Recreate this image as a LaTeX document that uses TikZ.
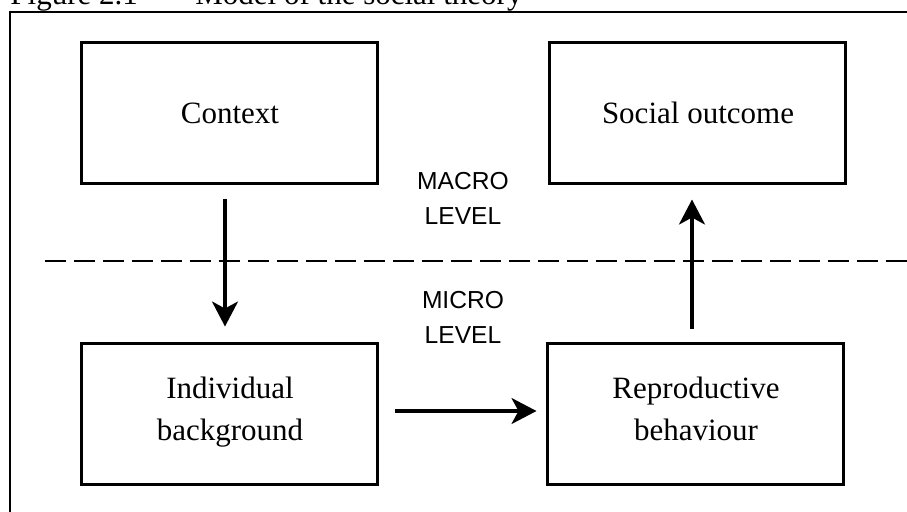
\documentclass[tikz,border=0pt]{standalone}
\usepackage{fontspec}
\setmainfont{Liberation Serif}
\newfontfamily\levelfont{Liberation Sans}
\usetikzlibrary{arrows.meta}
\tikzstyle{box} = [rectangle, minimum width=148pt, minimum height=70.5pt, text centered, align=center, draw=black, line width=1.5pt, font=\fontsize{15.5}{21}\selectfont, execute at begin node={\rule{0pt}{15.5pt}}, execute at end node={\rule[-5pt]{0pt}{5pt}}]
\tikzstyle{level} = [align=center, font=\levelfont\fontsize{12.3}{17.5}\selectfont]
\tikzstyle{caption} = [anchor=base west, inner sep=0pt, font=\fontsize{15.5}{18}\selectfont]
\tikzstyle{divider} = [line width=1.3pt, dash pattern=on 10.5pt off 4pt]
\tikzstyle{arrow} = [line width=1.6pt, -{Stealth[length=12.5pt, width=13pt, inset=3.5pt]}]

\begin{document}
\begin{tikzpicture}[node distance=233.5pt]
\path [use as bounding box, fill=white] (-115pt,56.25pt) rectangle (338.5pt,-199.25pt);

\node (fig) [caption] at (-110pt,54pt) {Figure 2.1};
\node (title) [caption] at (-17.5pt,54pt) {Model of the social theory};
\draw [line width=1pt] (-110pt,-210pt) -- (-110pt,50.25pt) -- (345pt,50.25pt);

\node (context) [box] {Context};
\node (social) [box, right of=context, xshift=0.5pt] {Social outcome};
\node (indiv) [box, below of=context, yshift=83pt] {Individual\\background};
\node (repro) [box, right of=indiv, xshift=-0.5pt] {Reproductive\\behaviour};

\node (macro) [level] at (116.5pt,-43pt) {MACRO\\LEVEL};
\node (micro) [level] at (116.5pt,-102.5pt) {MICRO\\LEVEL};

\coordinate (divl) at (-92.5pt,-74.25pt);
\coordinate (divr) at (345pt,-74.25pt);
\draw [divider] (divl) -- (divr);

\draw [arrow, shorten <=7pt, shorten >=7.5pt] ([xshift=-2.5pt]context.south) -- ([xshift=-2.5pt]indiv.north);
\draw [arrow, shorten <=8pt, shorten >=5pt] ([yshift=1.25pt]indiv.east) -- ([yshift=1.25pt]repro.west);
\draw [arrow, shorten <=6.5pt, shorten >=7.5pt] ([xshift=-2pt]repro.north) -- ([xshift=-2pt]repro.north |- social.south);
\end{tikzpicture}
\end{document}
